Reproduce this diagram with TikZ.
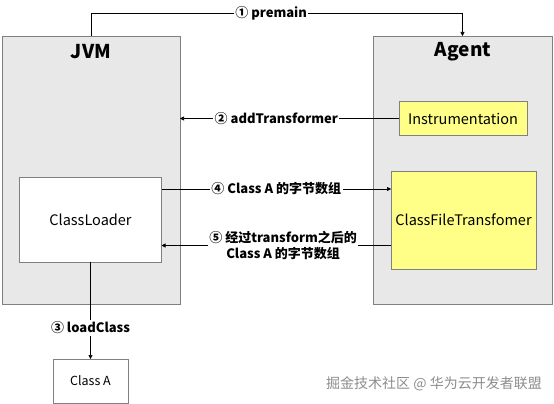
\documentclass[tikz,border=0pt]{standalone}
\usepackage{fontspec}
\setmainfont{Noto Sans CJK SC}
\usetikzlibrary{arrows.meta, positioning}

\definecolor{boxgray}{HTML}{E8E8E8}
\definecolor{edgegray}{HTML}{808080}
\definecolor{boxyellow}{HTML}{FFFF88}

\begin{document}
\begin{tikzpicture}[x=1pt, y=-1pt,
    every node/.style={inner sep=0pt, outer sep=0pt},
    panel/.style={draw=edgegray, fill=boxgray, line width=0.8pt},
    item/.style={draw=edgegray, line width=0.8pt, font=\fontsize{14.5}{17}\selectfont},
    title/.style={font=\fontsize{19}{22}\selectfont\bfseries},
    lbl/.style={fill=white, inner sep=1.5pt, font=\fontsize{13}{16}\selectfont\bfseries, align=center},
    arr/.style={-{Triangle[length=4pt, width=4pt]}, line width=0.6pt, draw=black}]
    \useasboundingbox (0,0) rectangle (554,404);

    % containers
    \node[panel, minimum width=178pt, minimum height=268pt] (jvm) at (91,170) {};
    \node[panel, minimum width=179pt, minimum height=268pt] (agent) at (462.5,170) {};
    \node[title] (jvmt) at (91,52) {JVM};
    \node[title] (agentt) at (463,52) {Agent};

    % inner boxes
    \node[item, fill=boxyellow, minimum width=128pt, minimum height=34pt] (instr) at (463,118.5) {Instrumentation};
    \node[item, fill=white, minimum width=142pt, minimum height=85pt] (loader) at (90.5,219.5) {ClassLoader};
    \node[item, fill=boxyellow, minimum width=145pt, minimum height=98pt] (transformer) at (463.5,220) {ClassFileTransfomer};
    \node[item, fill=white, minimum width=75pt, minimum height=44pt, font=\fontsize{12.5}{15}\selectfont] (classa) at (90.5,381) {Class A};

    % connectors
    \draw[arr] (jvm.north) -- ++(0,-23) -| node[lbl, pos=0.2425] {① premain} (agent.north);
    \draw[arr] (instr.west) -- node[lbl, pos=0.56] {② addTransformer} (jvm.east |- instr.west);
    \draw[arr] (loader.south) -- node[lbl, pos=0.68] {③ loadClass} (classa.north);
    \draw[arr] ([yshift=30.5pt]loader.east) -- node[lbl] {④ Class A 的字节数组} ([yshift=30.5pt]loader.east -| transformer.west);
    \draw[arr] ([yshift=-26pt]loader.east -| transformer.west) -- node[lbl, pos=0.47, inner sep=1pt] {⑤ 经过transform之后的\\Class A 的字节数组} ([yshift=-26pt]loader.east);

    % watermark
    \node[font=\fontsize{14}{16}\selectfont, text=black!45] (mark) at (434,384) {掘金技术社区 @ 华为云开发者联盟};
\end{tikzpicture}
\end{document}
